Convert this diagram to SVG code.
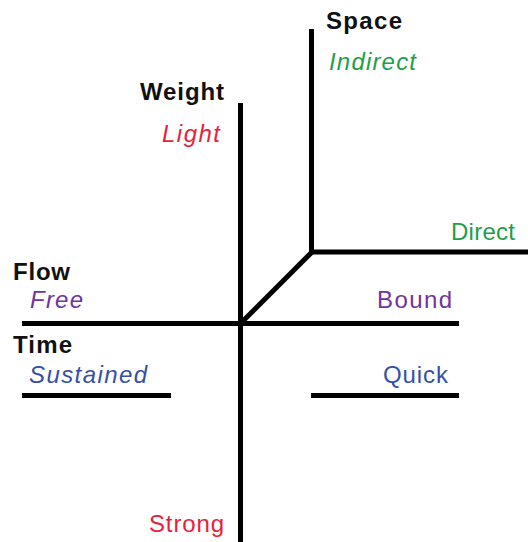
<svg xmlns="http://www.w3.org/2000/svg" width="528" height="542" viewBox="0 0 528 542">
<style>
text{font-family:"Liberation Sans",Arial,sans-serif;font-size:24px}
.h{font-weight:bold;fill:#111}
.i{font-style:italic}
.g{fill:#1f9e4a}.r{fill:#e8213d}.p{fill:#7232a0}.b{fill:#3550a5}
.ln{stroke:#000;stroke-width:5;fill:none}
</style>
<rect width="528" height="542" fill="#fff"/>
<g id="connectors">
<line class="ln" x1="240.5" y1="103" x2="240.5" y2="542"/>
<path class="ln" d="M311.5 29 V252 H528" stroke-linejoin="miter"/>
<line class="ln" x1="312" y1="252" x2="242" y2="322"/>
<line class="ln" x1="22" y1="323.5" x2="459" y2="323.5"/>
<line class="ln" x1="22" y1="395.5" x2="171" y2="395.5"/>
<line class="ln" x1="311" y1="395.5" x2="459" y2="395.5"/>
</g>
<g id="space"><text class="h" x="326" y="29" textLength="76">Space</text><text class="i g" x="329" y="70" textLength="87">Indirect</text><text class="g" x="451" y="240" textLength="64">Direct</text></g>
<g id="weight"><text class="h" x="140" y="100" textLength="84">Weight</text><text class="i r" x="162" y="142" textLength="58">Light</text><text class="r" x="149" y="532" textLength="75">Strong</text></g>
<g id="flow"><text class="h" x="13" y="280" textLength="57">Flow</text><text class="i p" x="30" y="308" textLength="53">Free</text><text class="p" x="377" y="308" textLength="75">Bound</text></g>
<g id="time"><text class="h" x="13" y="353" textLength="59">Time</text><text class="i b" x="29" y="383" textLength="118">Sustained</text><text class="b" x="383" y="383" textLength="65">Quick</text></g>
</svg>
